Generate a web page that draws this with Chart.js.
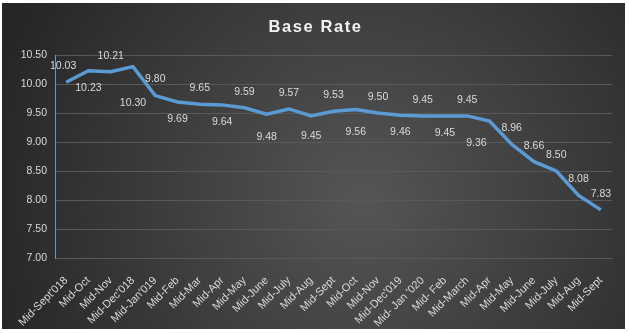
<!DOCTYPE html>
<html>
<head>
<meta charset="utf-8">
<script src="https://cdn.jsdelivr.net/npm/chart.js@4"></script>
<style>
  html, body { margin: 0; padding: 0; background: #ffffff; }
  #wrap { position: absolute; left: 2px; top: 3px; width: 623px; height: 326px; }
</style>
</head>
<body>
<div id="wrap"><canvas id="myChart"></canvas></div>
<script>
const months = [
  "Mid-Sept'018", "Mid-Oct", "Mid-Nov", "Mid-Dec'018", "Mid-Jan'019", "Mid-Feb",
  "Mid-Mar", "Mid-Apr", "Mid-May", "Mid-June", "Mid-July", "Mid-Aug", "Mid-Sept",
  "Mid-Oct", "Mid-Nov", "Mid-Dec'019", "Mid- Jan '020", "Mid- Feb", "Mid-March",
  "Mid-Apr", "Mid-May", "Mid-June", "Mid-July", "Mid-Aug", "Mid-Sept"
];
const baseRate = [
  10.03, 10.23, 10.21, 10.30, 9.80, 9.69, 9.65, 9.64, 9.59, 9.48, 9.57, 9.45, 9.53,
  9.56, 9.50, 9.46, 9.45, 9.45, 9.45, 9.36, 8.96, 8.66, 8.50, 8.08, 7.83
];
const yMin = 7.0;
const yMax = 10.5;
const yStep = 0.5;
const titleText = "Base Rate";

const textColor = "#d9d9d9";
const lineColor = "#5b9bd5";
const font = "'Liberation Sans', Arial, sans-serif";

// dark radial backdrop + spaced title
const backdrop = {
  id: "backdrop",
  beforeDraw(chart) {
    const { ctx, width, height } = chart;
    const g = ctx.createRadialGradient(width * 0.58, height * 0.6, 10, width * 0.58, height * 0.6, width * 0.62);
    g.addColorStop(0, "#545454");
    g.addColorStop(1, "#262626");
    ctx.save();
    ctx.fillStyle = g;
    ctx.fillRect(0, 0, width, height);
    ctx.font = "bold 16.5px " + font;
    ctx.letterSpacing = "1.6px";
    ctx.fillStyle = "#f2f2f2";
    ctx.textAlign = "center";
    ctx.textBaseline = "middle";
    ctx.fillText(titleText, width / 2 + 2, 24);
    ctx.restore();
  }
};

// value labels, alternating above / below the line
const valueLabels = {
  id: "valueLabels",
  afterDatasetsDraw(chart) {
    const { ctx } = chart;
    const meta = chart.getDatasetMeta(0);
    const extraBelow = { 3: 20, 9: 6, 11: 3, 13: 6, 19: 5 };
    ctx.save();
    ctx.font = "10.5px " + font;
    ctx.fillStyle = textColor;
    ctx.textAlign = "center";
    ctx.textBaseline = "middle";
    meta.data.forEach((pt, i) => {
      const v = baseRate[i].toFixed(2);
      let dx = 0;
      let dy = -16;
      if (i < 20 && i % 2 === 1) {
        dy = 17 + (extraBelow[i] || 0);
      }
      if (i === 19) dx = -13;
      if (i === 0) dx = -3;
      ctx.fillText(v, pt.x + dx, pt.y + dy);
    });
    ctx.restore();
  }
};

const myChart = document.getElementById("myChart");

new Chart(myChart, {
  type: "line",
  data: {
    labels: months,
    datasets: [{
      label: "Base Rate",
      data: baseRate,
      borderColor: lineColor,
      borderWidth: 3.5,
      pointRadius: 0,
      tension: 0,
      fill: false
    }]
  },
  options: {
    responsive: true,
    maintainAspectRatio: false,
    animation: false,
    layout: {
      padding: { top: 52, right: 13, bottom: 1, left: 0 }
    },
    plugins: {
      legend: { display: false },
      tooltip: { enabled: false },
      title: { display: false }
    },
    scales: {
      x: {
        offset: true,
        grid: { display: false, offset: true },
        border: { color: "#595959" },
        afterFit: (s) => { s.height = 70; },
        ticks: {
          color: textColor,
          font: { family: font, size: 11 },
          minRotation: 45,
          maxRotation: 45,
          autoSkip: false,
          padding: 8
        }
      },
      y: {
        min: yMin,
        max: yMax,
        afterFit: (s) => { s.width = 53; },
        grid: { color: "#595959", drawTicks: false },
        border: { color: lineColor, width: 1 },
        ticks: {
          stepSize: yStep,
          color: textColor,
          font: { family: font, size: 10.5 },
          padding: 8,
          callback: (v) => Number(v).toFixed(2)
        }
      }
    }
  },
  plugins: [backdrop, valueLabels]
});
</script>
</body>
</html>
